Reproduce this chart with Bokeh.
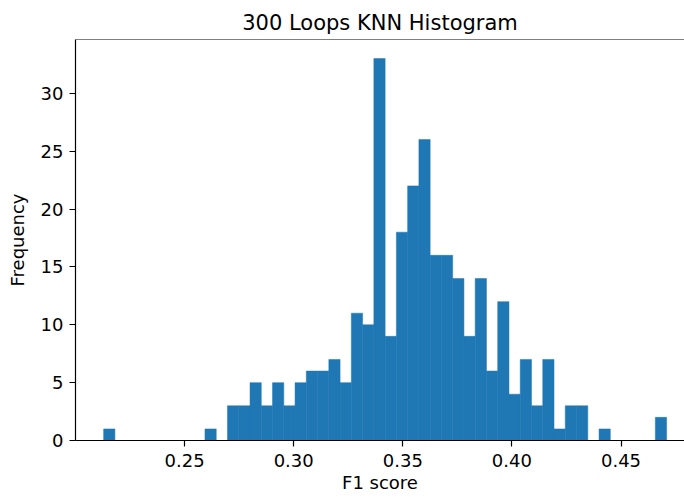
from bokeh.plotting import figure
from bokeh.models import Range1d, FixedTicker, Span
from bokeh.embed import file_html
from bokeh.resources import INLINE
import numpy as np

# histogram data (50 equal bins)
bin_min = 0.2129
bin_max = 0.4709
counts = [1, 0, 0, 0, 0, 0, 0, 0, 0, 1,
          0, 3, 3, 5, 3, 5, 3, 5, 6, 6,
          7, 5, 11, 10, 33, 9, 18, 22, 26, 16,
          16, 14, 9, 14, 6, 12, 4, 7, 3, 7,
          1, 3, 3, 0, 1, 0, 0, 0, 0, 2]
x_ticks = [0.25, 0.30, 0.35, 0.40, 0.45]
y_ticks = [0, 5, 10, 15, 20, 25, 30]

edges = np.linspace(bin_min, bin_max, len(counts) + 1)
y_top = max(counts) * 1.05
x_pad = (bin_max - bin_min) * 0.05

FONT = "DejaVu Sans"

p = figure(width=684, height=497, output_backend="svg", toolbar_location=None,
           x_range=Range1d(bin_min - x_pad, bin_min - x_pad + 609 / 2182),
           y_range=Range1d(0, y_top),
           title="300 Loops KNN Histogram",
           x_axis_label="F1 score", y_axis_label="Frequency",
           min_border_left=75, min_border_right=0, min_border_top=39,
           min_border_bottom=57)

p.quad(left=edges[:-1], right=edges[1:], bottom=0, top=counts,
       fill_color="#1f77b4", line_color="#1f77b4", line_width=0.5)

p.xgrid.visible = False
p.ygrid.visible = False
p.outline_line_color = None
p.add_layout(Span(location=y_top, dimension="width", line_color="#000000", line_width=1.2))

p.title.align = "center"
p.title.text_font = FONT
p.title.text_font_size = "21px"
p.title.text_font_style = "normal"
p.title.text_color = "#000000"
p.title.offset = 0
p.title.standoff = 10

for ax in (p.xaxis[0], p.yaxis[0]):
    ax.axis_line_color = "#000000"
    ax.axis_line_width = 1.2
    ax.major_tick_line_color = "#000000"
    ax.major_tick_line_width = 1.2
    ax.major_tick_in = 0
    ax.major_tick_out = 6
    ax.minor_tick_line_color = None
    ax.major_label_text_font = FONT
    ax.major_label_text_font_size = "18px"
    ax.major_label_text_color = "#000000"
    ax.axis_label_text_font = FONT
    ax.axis_label_text_font_size = "18px"
    ax.axis_label_text_font_style = "normal"
    ax.axis_label_text_color = "#000000"

p.xaxis[0].major_label_standoff = 7
p.xaxis[0].axis_label_standoff = 2
p.yaxis[0].major_label_standoff = 6
p.yaxis[0].axis_label_standoff = 10

p.xaxis[0].ticker = FixedTicker(ticks=x_ticks)
p.xaxis[0].major_label_overrides = {t: f"{t:.2f}" for t in x_ticks}
p.yaxis[0].ticker = FixedTicker(ticks=y_ticks)

open("out.html", "w").write(file_html(p, INLINE))
